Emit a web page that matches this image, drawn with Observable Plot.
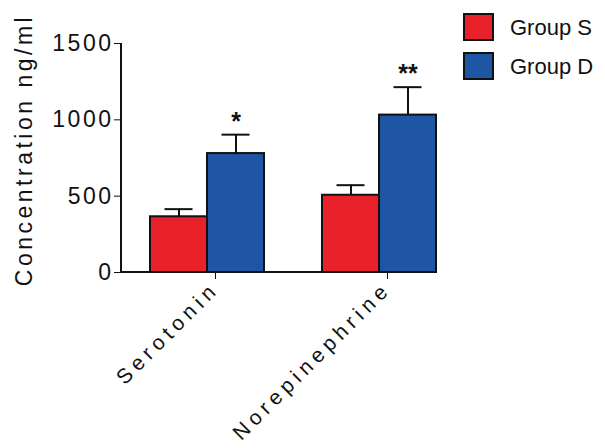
<!DOCTYPE html>
<html>
<head>
<meta charset="utf-8">
<script src="https://cdn.jsdelivr.net/npm/d3@7"></script>
<script src="https://cdn.jsdelivr.net/npm/@observablehq/plot@0.6"></script>
<style>
  body { margin: 0; background: #ffffff; }
  #wrap { position: relative; width: 605px; height: 448px; font-family: "Liberation Sans", Arial, sans-serif; }
  #wrap svg { font-family: "Liberation Sans", Arial, sans-serif; }
  [aria-label="fx-axis tick label"] text { letter-spacing: 5px; }
  [aria-label="y-axis tick label"] text { letter-spacing: 2.5px; }
  [aria-label="y-axis label"] text { letter-spacing: 3.5px; }
  .legend { position: absolute; left: 463px; top: 13px; }
  .legend .item { position: relative; height: 39px; }
  .legend .sw { position: absolute; left: 0; top: 0; width: 31px; height: 28px; border: 2px solid #111; box-sizing: border-box; }
  .legend .lab { position: absolute; left: 47px; top: 1px; font-size: 22px; color: #111; white-space: nowrap; line-height: 28px; }
</style>
</head>
<body>
<div id="wrap"></div>
<script>
const categories = ["Serotonin", "Norepinephrine"];
const groups = ["Group S", "Group D"];
const groupS = [365, 506];
const groupD = [779, 1031];
const errS = [50, 66];
const errD = [124, 183];
const significance = ["*", "**"];
const yTicks = [0, 500, 1000, 1500];
const colors = ["#e8212a", "#1e55a4"];
const yLabel = "Concentration ng/ml";

const rows = [];
categories.forEach((c, i) => {
  rows.push({cat: c, group: groups[0], value: groupS[i], err: errS[i]});
  rows.push({cat: c, group: groups[1], value: groupD[i], err: errD[i]});
});
const sigRows = categories.map((c, i) => ({cat: c, group: groups[1], top: groupD[i] + errD[i], text: significance[i]}));

const chart = Plot.plot({
  width: 605,
  height: 448,
  marginLeft: 121,
  marginRight: 140,
  marginTop: 43,
  marginBottom: 176,
  style: {background: "transparent", color: "#111"},
  fx: {domain: categories, paddingInner: 0, paddingOuter: 0, label: null},
  x: {domain: groups, paddingInner: 0, paddingOuter: 0.483, axis: null},
  y: {domain: [0, 1500], label: null},
  color: {domain: groups, range: colors},
  marks: [
    Plot.ruleX(rows, {fx: "cat", x: "group", y1: "value", y2: d => d.value + d.err, stroke: "#111", strokeWidth: 2}),
    Plot.tickY(rows, {fx: "cat", x: "group", y: d => d.value + d.err, insetLeft: 14.5, insetRight: 14.5, stroke: "#111", strokeWidth: 2}),
    Plot.barY(rows, {fx: "cat", x: "group", y: "value", fill: "group", stroke: "#111", strokeWidth: 2}),
    Plot.text(sigRows, {fx: "cat", x: "group", y: "top", text: "text", dy: -13, fontSize: 25, fontWeight: "bold", fill: "#111"}),
    Plot.axisY({ticks: yTicks, tickFormat: d => String(d), tickSize: 7, tickPadding: 1, fontSize: 23,
      label: yLabel, labelAnchor: "center", labelArrow: "none", labelOffset: 106}),
    Plot.axisFx({anchor: "bottom", tickRotate: -45, tickSize: 6, tickPadding: 6, fontSize: 21, dx: 8, dy: 1, label: null})
  ]
});

document.getElementById("wrap").appendChild(chart);

// axis lines drawn from the plot's own scales
const ys = chart.scale("y"), fxs = chart.scale("fx"), xs = chart.scale("x");
const y0 = ys.apply(0), yTop = ys.apply(yTicks[yTicks.length - 1]);
const left = fxs.range[0];
const right = fxs.apply(categories[categories.length - 1]) - xs.range[0] + xs.apply(groups[groups.length - 1]) + xs.bandwidth;
const svg = d3.select(chart);
svg.append("line").attr("x1", left).attr("x2", right).attr("y1", y0).attr("y2", y0).attr("stroke", "#111").attr("stroke-width", 2);
svg.append("line").attr("x1", left).attr("x2", left).attr("y1", yTop).attr("y2", y0 + 1).attr("stroke", "#111").attr("stroke-width", 2);

// nudge the y-axis title up slightly
const yl = svg.select('[aria-label="y-axis label"]');
if (!yl.empty()) {
  const t = yl.attr("transform") || "";
  yl.attr("transform", "translate(0,-8) " + t);
}

// legend
const legend = document.createElement("div");
legend.className = "legend";
groups.forEach((g, i) => {
  const item = document.createElement("div");
  item.className = "item";
  item.innerHTML = `<div class="sw" style="background:${colors[i]}"></div><div class="lab">${g}</div>`;
  legend.appendChild(item);
});
document.getElementById("wrap").appendChild(legend);
</script>
</body>
</html>
